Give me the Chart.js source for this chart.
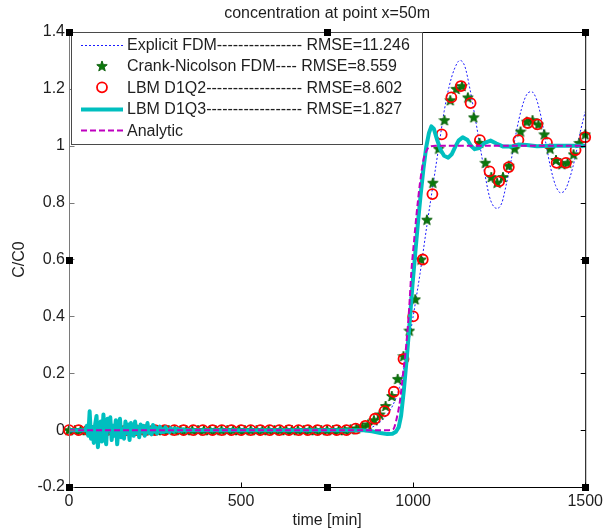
<!DOCTYPE html>
<html>
<head>
<meta charset="utf-8">
<title>concentration at point x=50m</title>
<script src="https://cdn.jsdelivr.net/npm/chart.js@4.4.0/dist/chart.umd.min.js"></script>
<style>
  html, body { margin: 0; padding: 0; background: #fff; }
  #wrap { width: 608px; height: 530px; }
</style>
</head>
<body>
<div id="wrap"><canvas id="chart" width="608" height="530"></canvas></div>
<script>
// C/C0 at x = 50 m, five schemes against the analytic solution

const chartTitle = 'concentration at point x=50m';
const xTitle = 'time [min]';
const yTitle = 'C/C0';
const xTicks = [0, 500, 1000, 1500];
const yTicks = [-0.2, 0, 0.2, 0.4, 0.6, 0.8, 1, 1.2, 1.4];

const legendLabels = [
    'Explicit FDM---------------- RMSE=11.246',
    'Crank-Nicolson FDM---- RMSE=8.559',
    'LBM D1Q2------------------ RMSE=8.602',
    'LBM D1Q3------------------ RMSE=1.827',
    'Analytic'
];

// Explicit FDM (dotted)
const explicitT = [0, 850, 880, 910, 940, 960, 980, 1000, 1020, 1040, 1060, 1075, 1090, 1105, 1120, 1136, 1150, 1165, 1180, 1197,
    1210, 1222, 1235, 1245, 1258, 1270, 1285, 1300, 1315, 1330, 1344, 1358, 1372, 1387, 1400, 1414, 1428, 1442, 1456, 1471, 1486, 1500];
const explicitC = [0, 0, 0.01, 0.035, 0.085, 0.15, 0.26, 0.40, 0.55, 0.72, 0.88, 1.0, 1.12, 1.21, 1.27, 1.30, 1.28, 1.20, 1.10, 0.98,
    0.89, 0.82, 0.785, 0.78, 0.80, 0.86, 0.95, 1.05, 1.13, 1.18, 1.19, 1.165, 1.10, 1.00, 0.92, 0.86, 0.835, 0.845, 0.89, 0.96, 1.05, 1.12];

// Crank-Nicolson FDM (stars)
const cnT = [0, 17, 34, 51, 68, 85, 102, 119, 136, 153, 170, 187, 205, 222, 239, 256, 273, 290, 307, 324,
    341, 358, 375, 392, 409, 426, 443, 460, 477, 494, 511, 528, 545, 562, 580, 597, 614, 631, 648, 665,
    682, 699, 716, 733, 750, 767, 784, 801, 818, 835, 852, 869, 886, 903, 920, 938, 955, 972, 989, 1006,
    1023, 1040, 1057, 1074, 1091, 1108, 1125, 1142, 1159, 1176, 1193, 1210, 1227, 1244, 1261, 1278, 1295, 1312, 1330, 1347,
    1364, 1381, 1398, 1415, 1432, 1449, 1466, 1483, 1500];
const cnC = [0, 0, 0, 0, 0, 0, 0, 0, 0, 0, 0, 0, 0, 0, 0, 0, 0, 0, 0, 0,
    0, 0, 0, 0, 0, 0, 0, 0, 0, 0, 0, 0, 0, 0, 0, 0, 0, 0, 0, 0,
    0, 0, 0, 0, 0, 0, 0, 0, 0.003, 0.006, 0.012, 0.02, 0.035, 0.055, 0.085, 0.12, 0.18, 0.26, 0.35, 0.46,
    0.60, 0.74, 0.87, 0.99, 1.09, 1.16, 1.20, 1.21, 1.17, 1.10, 1.01, 0.94, 0.89, 0.87, 0.89, 0.93, 0.99, 1.05, 1.085, 1.09,
    1.075, 1.04, 0.99, 0.95, 0.935, 0.94, 0.97, 1.01, 1.04];

// LBM D1Q2 (circles)
const d1q2T = [0, 28, 56, 83, 111, 139, 167, 194, 222, 250, 278, 306, 333, 361, 389, 417, 444, 472, 500, 528,
    556, 583, 611, 639, 667, 694, 722, 750, 778, 806, 833, 861, 889, 917, 944, 972, 1000, 1028, 1056, 1083,
    1111, 1139, 1167, 1194, 1222, 1250, 1278, 1306, 1333, 1361, 1389, 1417, 1444, 1472, 1500];
const d1q2C = [0, 0, 0, 0, 0, 0, 0, 0, 0, 0, 0, 0, 0, 0, 0, 0, 0, 0, 0, 0,
    0, 0, 0, 0, 0, 0, 0, 0, 0, 0, 0.005, 0.015, 0.04, 0.067, 0.135, 0.25, 0.40, 0.60, 0.83, 1.04,
    1.17, 1.21, 1.15, 1.02, 0.91, 0.875, 0.925, 1.02, 1.08, 1.075, 1.01, 0.94, 0.94, 0.985, 1.03];

// LBM D1Q3 (thick line, noisy start)
const d1q3T = [0, 48, 52, 56, 60, 64, 68, 72, 76, 80, 84, 88, 92, 96, 100, 104, 108, 112, 116, 120,
    124, 128, 132, 136, 140, 144, 148, 152, 156, 160, 164, 168, 172, 176, 180, 184, 188, 192, 196, 200,
    204, 208, 212, 216, 220, 224, 228, 232, 236, 240, 244, 248, 252, 256, 260, 264, 268, 272, 276, 280,
    284, 288, 292, 296, 300, 304, 308, 312, 316, 320, 324, 328, 332, 336, 340, 344, 348,
    400, 850, 880, 905, 925, 940, 950, 958, 965, 973, 982, 990, 998, 1006, 1014, 1022, 1030, 1038, 1046, 1053,
    1060, 1070, 1080, 1090, 1102, 1112, 1122, 1132, 1144, 1158, 1168, 1179, 1192, 1208, 1225, 1242, 1262, 1285, 1305, 1330,
    1360, 1400, 1500];
const d1q3C = [0, 0, 0.015, -0.02, 0.066, -0.03, 0.01, -0.045, 0.02, 0.05, -0.06, 0.005, 0.03, -0.04, 0.055, -0.015, -0.05, 0.04, 0.0, 0.045,
    -0.035, 0.015, -0.02, 0.035, -0.05, 0.01, 0.04, -0.025, 0.005, -0.03, 0.03, -0.01, 0.02, -0.035, 0.025, 0.0, -0.02, 0.03, -0.01, 0.01,
    -0.025, 0.02, -0.005, 0.015, -0.02, 0.0, 0.025, -0.01, 0.005, -0.015, 0.018, -0.005, 0.01, -0.012, 0.004, 0.012, -0.008, 0.003, -0.006, 0.01,
    -0.004, 0.002, -0.007, 0.006, 0.0, -0.004, 0.005, -0.002, 0.004, -0.003, 0.002, -0.002, 0.003, 0, -0.002, 0.001, 0,
    0, 0, -0.004, -0.01, -0.014, -0.013, -0.006, 0.01, 0.05, 0.14, 0.26, 0.38, 0.51, 0.62, 0.73, 0.83, 0.92, 0.995, 1.045, 1.068,
    1.06, 1.02, 0.985, 0.965, 0.958, 0.97, 0.995, 1.018, 1.03, 1.02, 1.0, 0.988, 0.992, 1.01, 1.018, 1.008, 0.997, 0.997, 1.004, 1.003,
    0.998, 1.0, 1.0];

// Analytic (dashed)
const analyticT = [0, 930, 942, 951, 962, 970, 980, 988, 995, 1003, 1010, 1020, 1030, 1040, 1050, 1065, 1500];
const analyticC = [0, 0, 0.003, 0.035, 0.105, 0.19, 0.30, 0.42, 0.56, 0.67, 0.76, 0.87, 0.95, 0.985, 0.998, 1.0, 1.0];

const FONT = '"Liberation Sans", Arial, sans-serif';
const TEXT = '#1e1e1e';

const pts = (t, c) => t.map((x, i) => ({ x, y: c[i] }));

function starImage(size, fill, stroke) {
    const c = document.createElement('canvas');
    c.width = c.height = size;
    const g = c.getContext('2d');
    const cx = size / 2, cy = size / 2 + 0.5, R = size / 2 - 0.5, r = R * 0.42;
    g.beginPath();
    for (let i = 0; i < 10; i++) {
        const a = -Math.PI / 2 + i * Math.PI / 5;
        const rad = i % 2 ? r : R;
        g.lineTo(cx + rad * Math.cos(a), cy + rad * Math.sin(a));
    }
    g.closePath();
    g.fillStyle = fill;
    g.fill();
    g.strokeStyle = stroke;
    g.lineWidth = 1;
    g.stroke();
    return c;
}
const star = starImage(12, '#0a7a0a', '#0c600c');

// frame, inward ticks, title, legend and the figure handles
const framePlugin = {
    id: 'frame',
    afterDatasetsDraw(chart) {
        const { ctx, chartArea: a, scales: { x, y } } = chart;
        const L = a.left + 0.5, R = a.right + 0.5, T = a.top + 0.5, B = a.bottom + 0.5;
        ctx.save();

        ctx.fillStyle = TEXT;
        ctx.font = '16px ' + FONT;
        ctx.textAlign = 'center';
        ctx.textBaseline = 'middle';
        ctx.fillText(chartTitle, (a.left + a.right) / 2, 14);

        ctx.lineWidth = 1;
        ctx.strokeStyle = '#000';
        ctx.beginPath();
        ctx.moveTo(L, T); ctx.lineTo(R, T); ctx.lineTo(R, B); ctx.lineTo(L, B);
        xTicks.forEach(v => {
            const px = Math.round(x.getPixelForValue(v)) + 0.5;
            ctx.moveTo(px, B); ctx.lineTo(px, B - 5);
            ctx.moveTo(px, T); ctx.lineTo(px, T + 5);
        });
        yTicks.forEach(v => {
            const py = Math.round(y.getPixelForValue(v)) + 0.5;
            ctx.moveTo(R, py); ctx.lineTo(R - 5, py);
        });
        ctx.stroke();

        ctx.strokeStyle = '#7a7a7a';
        ctx.beginPath();
        ctx.moveTo(L, T); ctx.lineTo(L, B);
        yTicks.forEach(v => {
            const py = Math.round(y.getPixelForValue(v)) + 0.5;
            ctx.moveTo(L, py); ctx.lineTo(L + 5, py);
        });
        ctx.stroke();

        // legend box
        const lx = a.left + 2.5, ly = a.top + 0.5, lw = 351, lh = 112;
        ctx.fillStyle = '#fff';
        ctx.fillRect(lx, ly, lw, lh);
        ctx.strokeStyle = '#4a4a4a';
        ctx.strokeRect(lx, ly, lw, lh);

        const order = [4, 3, 2, 1, 0];   // dataset index for each legend row
        legendLabels.forEach((label, i) => {
            const ds = chart.data.datasets[order[i]];
            const ry = a.top + 12.5 + i * 21.4;
            const x0 = a.left + 12, x1 = a.left + 54, xm = (x0 + x1) / 2;
            if (ds.showLine) {
                ctx.strokeStyle = ds.borderColor;
                ctx.lineWidth = ds.borderWidth;
                ctx.setLineDash(ds.borderDash || []);
                ctx.beginPath();
                ctx.moveTo(x0, Math.round(ry) + 0.5);
                ctx.lineTo(x1, Math.round(ry) + 0.5);
                ctx.stroke();
                ctx.setLineDash([]);
            } else if (ds.pointStyle === 'circle') {
                ctx.strokeStyle = ds.borderColor;
                ctx.lineWidth = ds.pointBorderWidth;
                ctx.beginPath();
                ctx.arc(xm, ry, ds.pointRadius, 0, Math.PI * 2);
                ctx.stroke();
            } else {
                ctx.drawImage(star, xm - star.width / 2, ry - star.height / 2);
            }
            ctx.fillStyle = TEXT;
            ctx.font = '16px ' + FONT;
            ctx.textAlign = 'left';
            ctx.textBaseline = 'middle';
            ctx.fillText(label, a.left + 58, ry + 1);
        });

        // selection handles
        ctx.fillStyle = '#000';
        const mx = (a.left + a.right) / 2, my = (a.top + a.bottom) / 2;
        [[a.left, a.top], [mx, a.top], [a.right, a.top], [a.left, my], [a.right, my],
         [a.left, a.bottom], [mx, a.bottom], [a.right, a.bottom]].forEach(([hx, hy]) => {
            ctx.fillRect(Math.round(hx) - 3, Math.round(hy) - 3, 7, 7);
        });
        ctx.restore();
    }
};

const ctx = document.getElementById('chart').getContext('2d');
new Chart(ctx, {
    type: 'scatter',
    data: {
        datasets: [
            {
                label: 'Analytic',
                data: pts(analyticT, analyticC),
                showLine: true,
                borderColor: '#bf00bf',
                borderWidth: 2,
                borderDash: [6, 3],
                pointRadius: 0,
                cubicInterpolationMode: 'monotone'
            },
            {
                label: 'LBM D1Q3',
                data: pts(d1q3T, d1q3C),
                showLine: true,
                borderColor: '#00bfbf',
                borderWidth: 4,
                borderJoinStyle: 'round',
                pointRadius: 0,
                tension: 0
            },
            {
                label: 'LBM D1Q2',
                data: pts(d1q2T, d1q2C),
                showLine: false,
                pointStyle: 'circle',
                pointRadius: 5,
                pointBorderWidth: 1.8,
                borderColor: '#ff0000',
                backgroundColor: 'rgba(0,0,0,0)',
                clip: false
            },
            {
                label: 'Crank-Nicolson FDM',
                data: pts(cnT, cnC),
                showLine: false,
                pointStyle: star,
                pointRadius: 6,
                clip: false
            },
            {
                label: 'Explicit FDM',
                data: pts(explicitT, explicitC),
                showLine: true,
                borderColor: '#1a1aff',
                borderWidth: 1,
                borderDash: [2, 2],
                pointRadius: 0,
                cubicInterpolationMode: 'monotone'
            }
        ]
    },
    options: {
        responsive: false,
        animation: false,
        events: [],
        layout: { padding: { top: 32, right: 20, left: 0, bottom: 0 } },
        scales: {
            x: {
                type: 'linear',
                min: 0,
                max: 1500,
                afterFit: s => { s.height = 43; },
                afterBuildTicks: s => { s.ticks = xTicks.map(v => ({ value: v })); },
                grid: { display: false, drawTicks: false },
                border: { display: false },
                ticks: {
                    padding: 5,
                    color: TEXT,
                    font: { family: FONT, size: 16 },
                    maxRotation: 0,
                    callback: v => String(v)
                },
                title: { display: true, text: xTitle, color: TEXT, font: { family: FONT, size: 16 }, padding: { top: 0, bottom: 0 } }
            },
            y: {
                min: -0.2,
                max: 1.4,
                afterFit: s => { s.width = 69; },
                afterBuildTicks: s => { s.ticks = yTicks.map(v => ({ value: v })); },
                grid: { display: false, drawTicks: false },
                border: { display: false },
                ticks: {
                    padding: 4,
                    color: TEXT,
                    font: { family: FONT, size: 16 },
                    callback: v => String(Math.round(v * 10) / 10)
                },
                title: { display: true, text: yTitle, color: TEXT, font: { family: FONT, size: 16 }, padding: { top: 10, bottom: 0 } }
            }
        },
        plugins: {
            legend: { display: false },
            tooltip: { enabled: false }
        }
    },
    plugins: [framePlugin]
});
</script>
</body>
</html>
